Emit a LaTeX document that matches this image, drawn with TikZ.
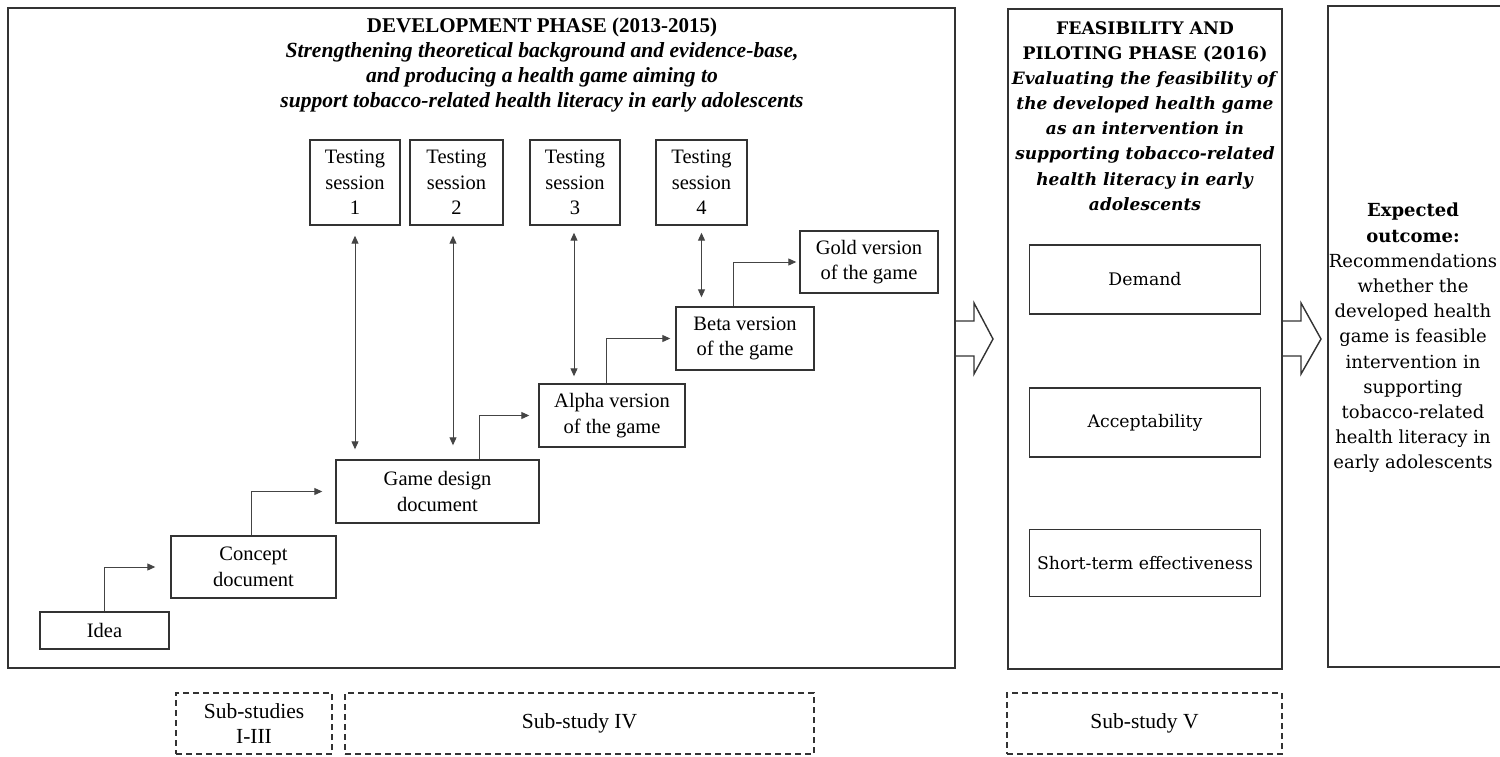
\documentclass[tikz,border=0pt]{standalone}
\usepackage{fontspec}
\setmainfont{Liberation Serif}
\newfontfamily\wideserif{DejaVu Serif}
\usetikzlibrary{arrows.meta}
\definecolor{ln}{HTML}{333333}
\definecolor{cn}{HTML}{444444}
\begin{document}
\begin{tikzpicture}[x=1pt,y=-1pt,
  box/.style={draw=ln, line width=1.4pt, align=center, inner sep=0pt, font=\fontsize{20.5}{25.5}\selectfont},
  panel/.style={draw=ln, line width=1.8pt, inner sep=0pt},
  rbox/.style={draw=ln, line width=1.4pt, align=center, inner sep=0pt, font=\wideserif\fontsize{17.3}{25}\selectfont, minimum width=231},
  dbox/.style={draw=ln, line width=1.2pt, dash pattern=on 6pt off 4pt, align=center, inner sep=0pt, font=\fontsize{21.5}{25.5}\selectfont},
  conn/.style={draw=cn, line width=1pt, -{Triangle[length=8pt,width=7pt]}},
  dconn/.style={draw=cn, line width=1pt, {Triangle[length=8pt,width=7pt]}-{Triangle[length=8pt,width=7pt]}},
  hollow/.style={draw=ln, line width=1.4pt, fill=white, line join=miter},
  hdr/.style={align=center, inner sep=0pt}
]
\clip (0,0) rectangle (1500,756);
\fill[white] (0,0) rectangle (1500,756);

% hollow arrows between panels
\draw[hollow] (955,321) -- (974,321) -- (974,303) -- (993,339) -- (974,374) -- (974,356) -- (955,356);
\draw[hollow] (1282,321) -- (1301,321) -- (1301,303) -- (1321,339) -- (1301,374) -- (1301,356) -- (1282,356);

% panels
\node[panel, minimum width=947, minimum height=660] (dev) at (481.5,338) {};
\node[panel, minimum width=274, minimum height=660] (feas) at (1145,339) {};
\node[panel, minimum width=192, minimum height=661] (exp) at (1424,336.5) {};

% development header
\node[hdr, font=\fontsize{21}{25.3}\selectfont] (devtitle) at (542,65)
  {\textbf{DEVELOPMENT PHASE (2013-2015)}\\
   {\fontsize{21.6}{25.3}\selectfont\textbf{\textit{Strengthening theoretical background and evidence-base,}}}\\
   {\fontsize{21.6}{25.3}\selectfont\textbf{\textit{and producing a health game aiming to}}}\\
   {\fontsize{21.6}{25.3}\selectfont\textbf{\textit{support tobacco-related health literacy in early adolescents}}}};

% testing sessions
\node[box, minimum width=90, minimum height=85] (ts1) at (355,182.5) {Testing\\session\\1};
\node[box, minimum width=93, minimum height=85] (ts2) at (456.5,182.5) {Testing\\session\\2};
\node[box, minimum width=90, minimum height=85] (ts3) at (575,182.5) {Testing\\session\\3};
\node[box, minimum width=91, minimum height=85] (ts4) at (701.5,182.5) {Testing\\session\\4};

% staircase
\node[box, minimum width=129, minimum height=37] (idea) at (104.5,630.5) {Idea};
\node[box, minimum width=165, minimum height=62] (concept) at (253.5,567) {Concept\\document};
\node[box, minimum width=203, minimum height=63] (gdd) at (437.5,491.5) {Game design\\document};
\node[box, minimum width=146, minimum height=63] (alpha) at (612,415.5) {Alpha version\\of the game};
\node[box, minimum width=138, minimum height=63] (beta) at (745,338.5) {Beta version\\of the game};
\node[box, minimum width=138, minimum height=62] (gold) at (869,262) {Gold version\\of the game};

\draw[conn] (idea.north) |- ([xshift=-15pt]concept.west);
\draw[conn] ([xshift=-2.5pt]concept.north) |- ([xshift=-13pt]gdd.west);
\draw[conn] ([xshift=41.5pt]gdd.north) |- ([xshift=-9pt]alpha.west);
\draw[conn] ([xshift=-6pt]alpha.north) |- ([xshift=-5pt]beta.west);
\draw[conn] ([xshift=-12pt]beta.north) |- ([xshift=-3pt]gold.west);

\draw[dconn, shorten <=10pt, shorten >=10pt] (ts1.south) -- (ts1.south |- gdd.north);
\draw[dconn, shorten <=10pt, shorten >=14pt] ([xshift=-3.5pt]ts2.south) -- ([xshift=-3.5pt]ts2.south |- gdd.north);
\draw[dconn, shorten <=7pt, shorten >=7pt] ([xshift=-1pt]ts3.south) -- ([xshift=-1pt]ts3.south |- alpha.north);
\draw[dconn, shorten <=7pt, shorten >=9pt] (ts4.south) -- (ts4.south |- beta.north);

% feasibility panel
\node[hdr, font=\wideserif\fontsize{17.3}{25.1}\selectfont] (feastitle) at (1145,116)
  {\textbf{FEASIBILITY AND}\\
   \textbf{PILOTING PHASE (2016)}\\
   {\fontsize{17}{25.1}\selectfont\textbf{\textit{Evaluating the feasibility of}}}\\
   {\fontsize{17}{25.1}\selectfont\textbf{\textit{the developed health game}}}\\
   {\fontsize{17}{25.1}\selectfont\textbf{\textit{as an intervention in}}}\\
   {\fontsize{17}{25.1}\selectfont\textbf{\textit{supporting tobacco-related}}}\\
   {\fontsize{17}{25.1}\selectfont\textbf{\textit{health literacy in early}}}\\
   {\fontsize{17}{25.1}\selectfont\textbf{\textit{adolescents}}}};
\node[rbox, minimum height=69] (demand) at (1145,279.5) {Demand};
\node[rbox, minimum height=69] (accept) at (1145,422.5) {Acceptability};
\node[rbox, minimum height=67] (short) at (1145,563) {Short-term effectiveness};

% expected outcome
\node[hdr, font=\wideserif\fontsize{18}{25.2}\selectfont] (exptext) at (1413,338)
  {\textbf{Expected}\\
   \textbf{outcome:}\\
   Recommendations\\
   whether the\\
   developed health\\
   game is feasible\\
   intervention in\\
   supporting\\
   tobacco-related\\
   health literacy in\\
   early adolescents};

% sub-studies
\node[dbox, minimum width=156, minimum height=61] (sub13) at (254,723.5) {Sub-studies\\I-III};
\node[dbox, minimum width=469, minimum height=61] (sub4) at (579.5,723.5) {Sub-study IV};
\node[dbox, minimum width=275, minimum height=61] (sub5) at (1144.5,723.5) {Sub-study V};
\end{tikzpicture}
\end{document}
